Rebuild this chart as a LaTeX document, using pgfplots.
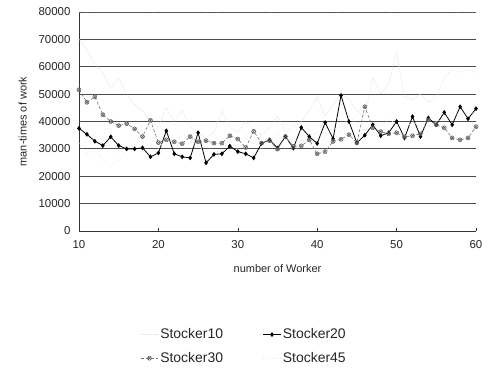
\documentclass[border=0pt]{standalone}
\usepackage{pgfplots}
\pgfplotsset{compat=1.18}
\usepackage{fontspec}
\setmainfont{Liberation Sans}
\begin{document}
\begin{tikzpicture}
\useasboundingbox (-79bp,-138bp) rectangle (409bp,231bp);
\begin{axis}[
  scale only axis,
  width=397bp, height=219bp,
  xmin=10, xmax=60, ymin=0, ymax=80000,
  xtick={10,20,...,60},
  ytick={0,10000,...,80000},
  /pgf/number format/1000 sep={},
  /pgf/number format/assume math mode=true,
  scaled y ticks=false,
  tick label style={font=\fontsize{11.5}{13}\selectfont, text=black!85},
  xticklabel style={yshift=-6bp},
  yticklabel style={xshift=-5bp},
  label style={font=\fontsize{11}{12}\selectfont, text=black!85},
  xlabel={number of Worker},
  ylabel={man-times of work},
  xlabel style={yshift=-9bp},
  ylabel style={yshift=5bp},
  axis x line*=bottom, axis y line*=left,
  axis line style={black!80, line width=0.8pt},
  x axis line style={-}, y axis line style={-},
  tick align=inside,
  major tick length=3bp,
  xtick style={black!80},
  ytick style={draw=none},
  ymajorgrids,
  grid style={black!70, line width=1pt},
  legend columns=2,
  legend style={draw=none, fill=none, at={(0.416,-0.527)}, anchor=center,
    font=\fontsize{14}{16}\selectfont, text=black!85,
    row sep=8bp},
  legend cell align=left,
]
% Stocker10
\addplot[gray!25, densely dotted, line width=0.7pt, mark=none] coordinates {
(10,70000)(11,66000)(12,61000)(13,58000)(14,52000)(15,56000)(16,50000)(17,46000)(18,44000)(19,40000)
(20,38000)(21,45000)(22,40000)(23,44000)(24,38000)(25,36000)(26,34000)(27,36000)(28,44000)(29,38000)
(30,36000)(31,40000)(32,37000)(33,35000)(34,38000)(35,42000)(36,36000)(37,38000)(38,40000)(39,44000)
(40,49000)(41,42000)(42,46000)(43,50000)(44,48000)(45,44000)(46,42000)(47,56000)(48,50000)(49,54000)
(50,65000)(51,49000)(52,48000)(53,50000)(54,47000)(55,49000)(56,56000)(57,59000)(58,58000)(59,59000)
(60,58000)};
\addlegendentry{Stocker10\hspace*{38bp}}
% Stocker20
\addplot[black, line width=0.8pt, mark=diamond*, mark size=1.8pt, mark options={solid, fill=black}] coordinates {
(10,37500)(11,35300)(12,32800)(13,31200)(14,34400)(15,31200)(16,30000)(17,30000)(18,30400)(19,27100)
(20,28500)(21,36600)(22,28200)(23,27100)(24,26700)(25,35900)(26,24900)(27,28000)(28,28200)(29,31000)
(30,29000)(31,28200)(32,26700)(33,32000)(34,33300)(35,30300)(36,34500)(37,30300)(38,37800)(39,34500)
(40,32000)(41,39600)(42,33700)(43,49500)(44,40000)(45,32200)(46,35000)(47,38800)(48,34800)(49,35900)
(50,40000)(51,34000)(52,41800)(53,34500)(54,41300)(55,38800)(56,43300)(57,38800)(58,45400)(59,41000)
(60,44700)};
\addlegendentry{Stocker20}
% Stocker30
\addplot[black!55, densely dashed, line width=0.6pt, mark=otimes, mark size=2pt, mark options={solid, black!60}] coordinates {
(10,51600)(11,47000)(12,49000)(13,42500)(14,40000)(15,38500)(16,39200)(17,37300)(18,34500)(19,40400)
(20,32300)(21,33300)(22,32600)(23,31900)(24,34500)(25,32600)(26,33000)(27,32100)(28,32100)(29,34800)
(30,33600)(31,30500)(32,36400)(33,32100)(34,33000)(35,29900)(36,34500)(37,30900)(38,31100)(39,33300)
(40,28200)(41,29000)(42,32700)(43,33500)(44,35200)(45,32200)(46,45400)(47,37700)(48,36300)(49,35500)
(50,35900)(51,34400)(52,34800)(53,35500)(54,40600)(55,38800)(56,37700)(57,34000)(58,33300)(59,34000)
(60,38100)};
\addlegendentry{Stocker30\hspace*{38bp}}
% Stocker45
\addplot[gray!20, dotted, line width=0.7pt, mark=none] coordinates {
(10,32000)(11,28000)(12,30000)(13,26000)(14,24000)(15,26000)(16,30000)(17,32000)(18,30000)(19,32000)
(20,30000)(21,34000)(22,32000)(23,36000)(24,33000)(25,31000)(26,29000)(27,32000)(28,31000)(29,33000)
(30,30000)(31,34000)(32,32000)(33,30000)(34,33000)(35,36000)(36,33000)(37,34000)(38,32000)(39,35000)
(40,36000)(41,34000)(42,38000)(43,36000)(44,42000)(45,39000)(46,37000)(47,40000)(48,38000)(49,41000)
(50,39000)(51,37000)(52,40000)(53,38000)(54,42000)(55,40000)(56,41000)(57,43000)(58,42000)(59,44000)
(60,43000)};
\addlegendentry{Stocker45}
\draw[black!60, dotted, line width=0.8pt] (rel axis cs:0,1) -- (rel axis cs:1,1) -- (rel axis cs:1,0);
\end{axis}
\end{tikzpicture}
\end{document}
